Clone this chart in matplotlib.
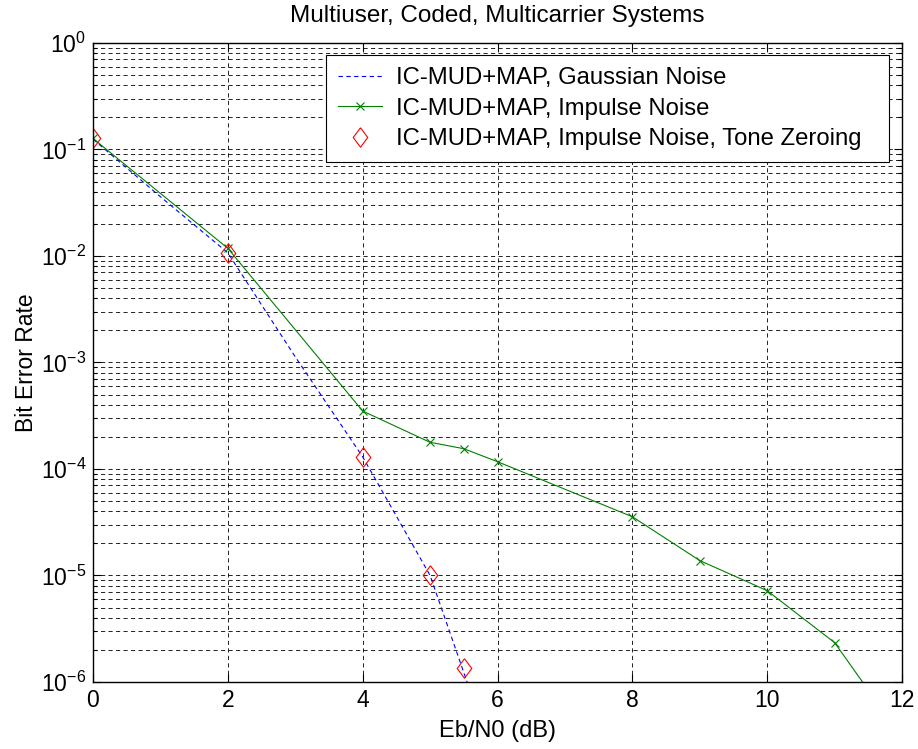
import matplotlib
matplotlib.use('Agg')

import numpy as np
import matplotlib.pyplot as plt
from matplotlib.ticker import LogLocator, NullFormatter, FixedLocator

plt.rcParams['font.family'] = ['Liberation Sans', 'DejaVu Sans']
plt.rcParams['mathtext.fontset'] = 'custom'
plt.rcParams['mathtext.rm'] = 'Liberation Sans'
plt.rcParams['mathtext.it'] = 'Liberation Sans'

# Data
snr_gauss = [0, 1, 2, 3, 4, 5, 6]
ber_gauss = [0.125, 0.036, 0.0107, 1.13e-3, 1.3e-4, 1.0e-5, 1.5e-7]

snr_impulse = [0, 2, 4, 5, 5.5, 6, 8, 9, 10, 11, 12]
ber_impulse = [0.127, 0.0118, 3.5e-4, 1.78e-4, 1.55e-4, 1.17e-4,
               3.56e-5, 1.38e-5, 7.2e-6, 2.34e-6, 3.0e-7]

snr_zero = [0, 2, 4, 5, 5.5]
ber_zero = [0.127, 0.0107, 1.3e-4, 1.0e-5, 1.35e-6]

labels = ['IC-MUD+MAP, Gaussian Noise',
          'IC-MUD+MAP, Impulse Noise',
          'IC-MUD+MAP, Impulse Noise, Tone Zeroing']

fs = 16.5

fig = plt.figure(figsize=(9.18, 7.49), dpi=100)
ax = fig.add_axes([0.1013, 0.0895, 0.8813, 0.8531])

ax.semilogy(snr_gauss, ber_gauss, color='blue', lw=0.8, dashes=(4, 3),
            label=labels[0])
ax.semilogy(snr_impulse, ber_impulse, color='green', lw=0.8, marker='x',
            markersize=6, markeredgewidth=0.8, label=labels[1])
diamond = [(0, 1), (0.75, 0), (0, -1), (-0.75, 0), (0, 1)]
ax.semilogy(snr_zero, ber_zero, linestyle='none', marker=diamond,
            markersize=14, markerfacecolor='none', markeredgecolor='red',
            markeredgewidth=0.8, label=labels[2])

ax.set_xlim(0, 12)
ax.set_ylim(1e-6, 1)
ax.xaxis.set_major_locator(FixedLocator([0, 2, 4, 6, 8, 10, 12]))
ax.yaxis.set_major_locator(LogLocator(base=10, numticks=10))
ax.yaxis.set_minor_locator(LogLocator(base=10, subs=np.arange(2, 10), numticks=20))
ax.yaxis.set_minor_formatter(NullFormatter())

ax.grid(True, which='major', color='black', lw=0.6, dashes=(5, 4))
ax.grid(True, which='minor', axis='y', color='black', lw=0.6, dashes=(5, 4))

ax.tick_params(which='both', direction='in', top=True, right=True,
               labelsize=fs, colors='black', width=0.8)
ax.tick_params(which='major', length=6, pad=5)
ax.tick_params(which='minor', length=3)
for s in ax.spines.values():
    s.set_linewidth(1.0)

ax.set_title('Multiuser, Coded, Multicarrier Systems', fontsize=17.5, pad=15)
ax.set_xlabel('Eb/N0 (dB)', fontsize=17, labelpad=6)
ax.set_ylabel('Bit Error Rate', fontsize=fs, labelpad=2)

leg = ax.legend(loc='upper left', bbox_to_anchor=(0.288, 0.5, 0.696, 0.481),
                mode='expand', fontsize=17.2,
                fancybox=False, framealpha=1, edgecolor='black',
                handlelength=1.85, handletextpad=0.6, borderpad=0.5,
                borderaxespad=0, labelspacing=0.36)
leg.get_frame().set_linewidth(0.8)

plt.savefig('out.png', dpi=100)
